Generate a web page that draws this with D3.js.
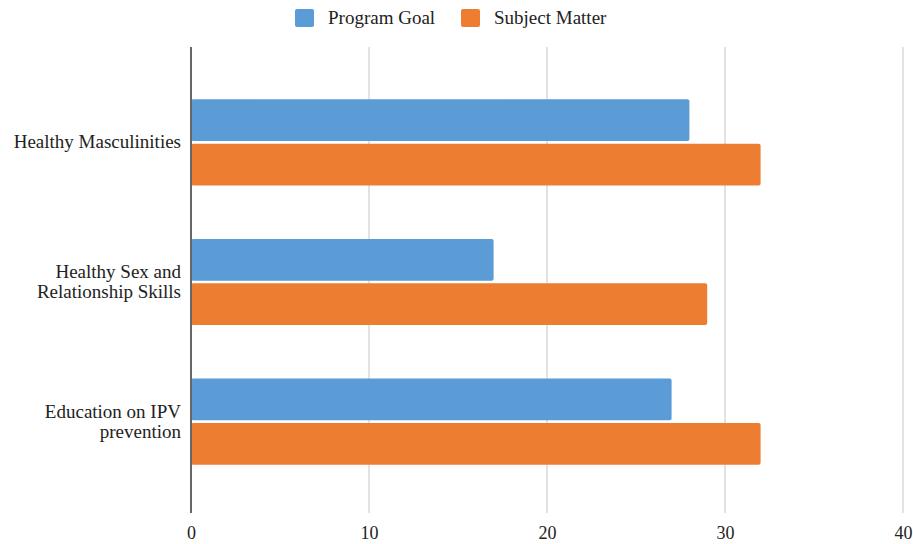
<!DOCTYPE html>
<html>
<head>
<meta charset="utf-8">
<script src="https://cdn.jsdelivr.net/npm/d3@7"></script>
<style>
  html, body { margin: 0; padding: 0; background: #fff; }
  svg { display: block; }
  svg text { font-family: "Liberation Serif", "DejaVu Serif", serif !important; fill: #222; }
</style>
</head>
<body>
<svg id="chart" width="913" height="544"></svg>
<script>
// Chart data
const categories = [
  ["Healthy Masculinities"],
  ["Healthy Sex and", "Relationship Skills"],
  ["Education on IPV", "prevention"]
];
const seriesNames = ["Program Goal", "Subject Matter"];
const programGoal = [28, 17, 27];
const subjectMatter = [32, 29, 32];
const xTicks = [0, 10, 20, 30, 40];
const colors = ["#5B9BD6", "#ED7D31"];

(function draw() {
  const svg = d3.select("#chart");
  const plotLeft = 191, plotRight = 903, plotTop = 47, plotBottom = 513;
  const serif = '"Liberation Serif", "DejaVu Serif", serif';

  const x = d3.scaleLinear().domain([0, 40]).range([plotLeft, plotRight]);
  const keys = categories.map((c, i) => i);
  const y = d3.scaleBand().domain(keys).range([plotTop + 2, plotBottom + 2])
    .paddingInner(0.383).paddingOuter(0.36);
  const ySub = d3.scaleBand().domain(d3.range(seriesNames.length))
    .range([0, y.bandwidth()]).paddingInner(0.06);

  // Gridlines
  svg.append("g").selectAll("line")
    .data(xTicks.filter(t => t !== 0))
    .join("line")
    .attr("x1", d => x(d)).attr("x2", d => x(d))
    .attr("y1", plotTop).attr("y2", plotBottom)
    .attr("stroke", "#d9d9d9").attr("stroke-width", 1.5);

  // Bars
  const values = [programGoal, subjectMatter];
  const groups = svg.append("g").selectAll("g")
    .data(keys).join("g")
    .attr("transform", i => `translate(0,${y(i)})`);
  groups.selectAll("rect")
    .data(i => values.map((v, s) => ({ s, v: v[i] })))
    .join("rect")
    .attr("x", x(0))
    .attr("y", d => ySub(d.s))
    .attr("width", d => x(d.v) - x(0))
    .attr("height", ySub.bandwidth())
    .attr("rx", 2).attr("ry", 2)
    .attr("fill", d => colors[d.s]);

  // Zero axis line
  svg.append("line")
    .attr("x1", x(0)).attr("x2", x(0))
    .attr("y1", plotTop).attr("y2", plotBottom)
    .attr("stroke", "#666").attr("stroke-width", 2);

  // X tick labels
  const xAxis = d3.axisBottom(x).tickValues(xTicks).tickSize(0).tickPadding(0);
  const gx = svg.append("g").attr("transform", `translate(0,${plotBottom})`).call(xAxis);
  gx.attr("font-family", serif).attr("font-size", 18);
  gx.select(".domain").remove();
  gx.selectAll("text")
    .attr("y", 26)
    .attr("dy", 0)
    .style("font-size", "18px")
    .attr("fill", "#222");

  // Category labels
  const lineH = 20;
  svg.append("g").selectAll("text")
    .data(keys).join("text")
    .attr("text-anchor", "end")
    .attr("font-family", serif)
    .style("font-size", "19px")
    .each(function(i) {
      const lines = categories[i];
      const t = d3.select(this);
      const cy = y(i) + y.bandwidth() / 2;
      const start = -(lines.length - 1) * lineH / 2;
      lines.forEach((ln, k) => {
        t.append("tspan")
          .attr("x", 181)
          .attr("y", cy + start + k * lineH + 6)
          .text(ln);
      });
    });

  // Legend
  const legendX = [295, 461];
  const legend = svg.append("g").selectAll("g")
    .data(seriesNames).join("g")
    .attr("transform", (d, i) => `translate(${legendX[i]},9)`);
  legend.append("rect")
    .attr("width", 19).attr("height", 18).attr("rx", 2)
    .attr("fill", (d, i) => colors[i]);
  legend.append("text")
    .attr("x", 33).attr("y", 15)
    .attr("font-family", serif)
    .style("font-size", "19px")
    .text(d => d);
})();
</script>
</body>
</html>
